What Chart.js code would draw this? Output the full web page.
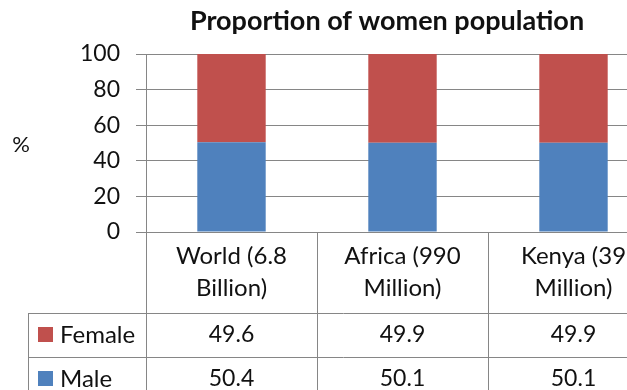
<!DOCTYPE html>
<html>
<head>
<meta charset="utf-8">
<script src="https://cdn.jsdelivr.net/npm/chart.js@4.4.0/dist/chart.umd.min.js"></script>
<style>
  html, body { margin: 0; padding: 0; background: #fff; overflow: hidden; }
  #wrap { width: 627px; height: 390px; overflow: hidden; }
</style>
</head>
<body>
<div id="wrap"><canvas id="chart" width="776" height="402"></canvas></div>
<script>
const chartTitle = "Proportion of women population";
const categories = [["World (6.8", "Billion)"], ["Africa (990", "Million)"], ["Kenya (39", "Million)"]];
const seriesNames = ["Female", "Male"];
const female = [49.6, 49.9, 49.9];
const male = [50.4, 50.1, 50.1];
const yTicks = [0, 20, 40, 60, 80, 100];

const red = "#C0504D";
const blue = "#4F81BD";
const gridColor = "#868686";
const font = "Lato";

// data table under the plot, excel style
const tablePlugin = {
  id: "dataTable",
  afterDraw(chart) {
    const ctx = chart.ctx;
    const area = chart.chartArea;
    const xs = chart.scales.x;
    const n = categories.length;
    const colW = xs.width / n;
    const rowTop = 313, rowH = 44;
    const rows = [
      { name: seriesNames[0], values: female, color: red },
      { name: seriesNames[1], values: male, color: blue },
    ];

    ctx.save();
    ctx.strokeStyle = gridColor;
    ctx.lineWidth = 1;
    ctx.beginPath();
    for (let i = 0; i <= n; i++) {
      const px = Math.round(area.left + i * colW) + 0.5;
      ctx.moveTo(px, area.bottom);
      ctx.lineTo(px, rowTop + rows.length * rowH);
    }
    for (let r = 0; r <= rows.length; r++) {
      const py = rowTop + r * rowH + 0.5;
      ctx.moveTo(28, py);
      ctx.lineTo(area.right, py);
    }
    ctx.moveTo(28.5, rowTop);
    ctx.lineTo(28.5, rowTop + rows.length * rowH);
    ctx.stroke();

    ctx.textBaseline = "middle";
    rows.forEach((row, r) => {
      const cy = rowTop + r * rowH + rowH / 2;
      ctx.fillStyle = row.color;
      ctx.fillRect(38, cy - 8, 15, 15);
      ctx.fillStyle = "#111";
      ctx.textAlign = "left";
      ctx.font = "24px " + font;
      ctx.fillText(row.name, 60, cy);
      ctx.textAlign = "center";
      ctx.font = "23px " + font;
      row.values.forEach((v, i) => {
        ctx.fillText(v.toFixed(1), xs.getPixelForValue(i), cy);
      });
    });

    // title and the "%" axis label
    ctx.fillStyle = "#111";
    ctx.textAlign = "center";
    ctx.font = "bold 27px " + font;
    ctx.fillText(chartTitle, 387, 21);
    ctx.font = "22px " + font;
    ctx.fillText("%", 21, 145);
    ctx.restore();
  }
};

new Chart(document.getElementById("chart"), {
  type: "bar",
  data: {
    labels: categories,
    datasets: [
      { label: seriesNames[1], data: male, backgroundColor: blue, categoryPercentage: 0.4, barPercentage: 1 },
      { label: seriesNames[0], data: female, backgroundColor: red, categoryPercentage: 0.4, barPercentage: 1 },
    ],
  },
  options: {
    responsive: false,
    animation: false,
    layout: { padding: { left: 0, right: 117, top: 54, bottom: 89 } },
    scales: {
      x: {
        stacked: true,
        grid: { display: false },
        border: { display: true, color: gridColor },
        ticks: { color: "#111", font: { family: font, size: 24, lineHeight: 1.35 }, padding: 0, maxRotation: 0, autoSkip: false },
        afterFit: (scale) => { scale.height = 81; },
      },
      y: {
        stacked: true,
        min: 0,
        max: 100,
        afterBuildTicks: (scale) => { scale.ticks = yTicks.map((v) => ({ value: v })); },
        grid: { color: gridColor, tickLength: 10 },
        border: { color: gridColor },
        ticks: { color: "#111", font: { family: font, size: 23 }, padding: 16 },
        afterFit: (scale) => { scale.width = 146; },
      },
    },
    plugins: {
      legend: { display: false },
      title: { display: false },
      tooltip: { enabled: false },
    },
  },
  plugins: [tablePlugin],
});
</script>
</body>
</html>
